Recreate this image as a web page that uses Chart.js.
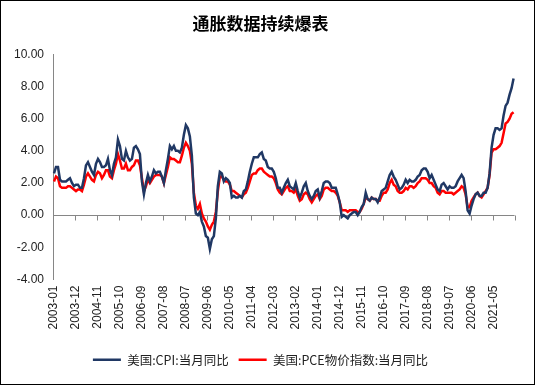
<!DOCTYPE html>
<html>
<head>
<meta charset="utf-8">
<script src="https://cdn.jsdelivr.net/npm/chart.js@4"></script>
<style>
  body { margin: 0; background: #fff; }
  #box { width: 535px; height: 385px; box-sizing: border-box; border: 1px solid #000; }
</style>
</head>
<body>
<div id="box"><canvas id="inflChart" width="533" height="383"></canvas></div>
<script>
// 月份: 2003-01 .. 2022-03
const startYear = 2003;
const monthCount = 231;
const labelEvery = 11;

// 美国:CPI:当月同比 (%)
const cpiValues = [
  2.6, 3.0, 3.0, 2.2, 2.1, 2.1, 2.1, 2.2, 2.3, 2.0, 1.8, 1.9,
  1.9, 1.7, 1.7, 2.3, 3.1, 3.3, 3.0, 2.7, 2.5, 3.2, 3.5, 3.3,
  3.0, 3.0, 3.1, 3.5, 2.8, 2.5, 3.2, 3.6, 4.7, 4.3, 3.5, 3.4,
  4.0, 3.6, 3.4, 3.5, 4.2, 4.3, 4.1, 3.8, 2.1, 1.3, 2.0, 2.5,
  2.1, 2.4, 2.8, 2.6, 2.7, 2.7, 2.4, 2.0, 2.8, 3.5, 4.3, 4.1,
  4.3, 4.0, 4.0, 3.9, 4.2, 5.0, 5.6, 5.4, 4.9, 3.7, 1.1, 0.1,
  0.0, 0.2, -0.4, -0.7, -1.3, -1.4, -2.1, -1.5, -1.3, -0.2, 1.8, 2.7,
  2.6, 2.1, 2.3, 2.2, 2.0, 1.1, 1.2, 1.1, 1.1, 1.2, 1.1, 1.5,
  1.6, 2.1, 2.7, 3.2, 3.6, 3.6, 3.6, 3.8, 3.9, 3.5, 3.4, 3.0,
  2.9, 2.9, 2.7, 2.3, 1.7, 1.7, 1.4, 1.7, 2.0, 2.2, 1.8, 1.7,
  1.6, 2.0, 1.5, 1.1, 1.4, 1.8, 2.0, 1.5, 1.2, 1.0, 1.2, 1.5,
  1.6, 1.1, 1.5, 2.0, 2.1, 2.1, 2.0, 1.7, 1.7, 1.7, 1.3, 0.8,
  -0.1, 0.0, -0.1, -0.2, 0.0, 0.1, 0.2, 0.2, 0.0, 0.2, 0.5, 0.7,
  1.4, 1.0, 0.9, 1.1, 1.0, 1.0, 0.8, 1.1, 1.5, 1.6, 1.7, 2.1,
  2.5, 2.7, 2.4, 2.2, 1.9, 1.6, 1.7, 1.9, 2.2, 2.0, 2.2, 2.1,
  2.1, 2.2, 2.4, 2.5, 2.8, 2.9, 2.9, 2.7, 2.3, 2.5, 2.2, 1.9,
  1.6, 1.5, 1.9, 2.0, 1.8, 1.6, 1.8, 1.7, 1.7, 1.8, 2.1, 2.3,
  2.5, 2.3, 1.5, 0.3, 0.1, 0.6, 1.0, 1.3, 1.4, 1.2, 1.2, 1.4,
  1.4, 1.7, 2.6, 4.2, 5.0, 5.4, 5.4, 5.3, 5.4, 6.2, 6.8, 7.0,
  7.5, 7.9, 8.5
];

// 美国:PCE物价指数:当月同比 (%)
const pceValues = [
  2.1, 2.4, 2.3, 1.8, 1.7, 1.7, 1.7, 1.8, 1.8, 1.7, 1.6, 1.5,
  1.6, 1.6, 1.5, 1.9, 2.4, 2.6, 2.4, 2.2, 2.1, 2.5, 2.7, 2.6,
  2.3, 2.5, 2.8, 2.8, 2.4, 2.3, 2.8, 3.2, 3.8, 3.4, 2.9, 2.9,
  3.2, 2.8, 2.8, 3.0, 3.1, 3.4, 3.4, 3.1, 2.3, 1.5, 1.8, 2.2,
  2.0, 2.2, 2.4, 2.5, 2.5, 2.5, 2.4, 2.0, 2.5, 3.0, 3.6, 3.5,
  3.5, 3.4, 3.3, 3.3, 3.7, 4.2, 4.5, 4.3, 4.0, 3.2, 1.4, 0.6,
  0.4, 0.7, 0.1, -0.2, -0.4, -0.7, -0.9, -0.6, -0.4, 0.2, 1.5, 2.4,
  2.4, 2.2, 2.1, 2.1, 1.9, 1.5, 1.5, 1.4, 1.3, 1.2, 1.1, 1.3,
  1.4, 1.7, 2.1, 2.5, 2.6, 2.6, 2.8, 2.9, 2.9, 2.7, 2.6, 2.5,
  2.4, 2.4, 2.3, 2.0, 1.6, 1.4, 1.3, 1.5, 1.7, 1.8, 1.5, 1.5,
  1.4, 1.6, 1.2, 0.9, 1.0, 1.3, 1.4, 1.3, 1.0, 0.8, 1.0, 1.2,
  1.3, 1.0, 1.2, 1.6, 1.7, 1.7, 1.6, 1.5, 1.5, 1.4, 1.2, 0.8,
  0.3, 0.3, 0.3, 0.2, 0.3, 0.3, 0.3, 0.3, 0.2, 0.2, 0.4, 0.7,
  1.1, 1.0, 0.9, 1.1, 1.0, 1.0, 0.9, 0.9, 1.2, 1.4, 1.4, 1.6,
  2.0, 2.2, 1.9, 1.8, 1.5, 1.4, 1.4, 1.5, 1.7, 1.6, 1.8, 1.8,
  1.7, 1.8, 2.0, 2.1, 2.3, 2.3, 2.3, 2.2, 2.0, 2.0, 1.8, 1.7,
  1.4, 1.3, 1.5, 1.5, 1.4, 1.4, 1.4, 1.4, 1.3, 1.4, 1.5, 1.6,
  1.8, 1.7, 1.3, 0.5, 0.5, 0.9, 1.1, 1.3, 1.4, 1.2, 1.1, 1.3,
  1.5, 1.7, 2.5, 3.9, 4.1, 4.1, 4.2, 4.3, 4.5, 5.1, 5.7, 5.8,
  6.0, 6.3, 6.4
];

const yTicks = [-4, -2, 0, 2, 4, 6, 8, 10];

const months = [];
for (let i = 0; i < monthCount; i++) {
  const y = startYear + Math.floor(i / 12);
  const m = (i % 12) + 1;
  months.push(y + '-' + (m < 10 ? '0' + m : m));
}

// 零轴 + 刻度线
const zeroAxis = {
  id: 'zeroAxis',
  beforeDatasetsDraw(chart) {
    const { ctx, chartArea, scales } = chart;
    const y0 = Math.round(scales.y.getPixelForValue(0)) + 0.5;
    const step = (chartArea.right - chartArea.left) / months.length;
    ctx.save();
    ctx.strokeStyle = '#868686';
    ctx.lineWidth = 1;
    ctx.beginPath();
    ctx.moveTo(chartArea.left, y0);
    ctx.lineTo(chartArea.right, y0);
    for (let k = 0; k * labelEvery <= months.length; k++) {
      const x = Math.round(chartArea.left + k * labelEvery * step) + 0.5;
      ctx.moveTo(x, y0);
      ctx.lineTo(x, y0 + 5);
    }
    ctx.stroke();
    ctx.restore();
  }
};

document.addEventListener('DOMContentLoaded', function () {
  Chart.defaults.font.family = "'Liberation Sans', 'Noto Sans CJK SC', sans-serif";
  Chart.defaults.color = '#222';

  const config = {
    type: 'line',
    data: {
      labels: months,
      datasets: [{
        label: '美国:CPI:当月同比',
        data: cpiValues,
        borderColor: '#203864',
        backgroundColor: '#203864',
        borderWidth: 2.5,
        pointRadius: 0,
        tension: 0
      }, {
        label: '美国:PCE物价指数:当月同比',
        data: pceValues,
        borderColor: '#ff0000',
        backgroundColor: '#ff0000',
        borderWidth: 2.5,
        pointRadius: 0,
        tension: 0
      }]
    },
    options: {
      responsive: false,
      animation: false,
      layout: { padding: { left: 0, right: 14, top: 0, bottom: 8 } },
      plugins: {
        title: {
          display: true,
          text: '通胀数据持续爆表',
          color: '#000',
          font: { family: "'Noto Sans CJK SC'", size: 17, weight: 'bold' },
          padding: { top: 12, bottom: 21 }
        },
        legend: {
          position: 'bottom',
          labels: {
            usePointStyle: true,
            pointStyle: 'line',
            pointStyleWidth: 28,
            padding: 10,
            color: '#222',
            font: { family: "'Noto Sans CJK SC'", size: 12.5 }
          }
        },
        tooltip: { enabled: false }
      },
      scales: {
        x: {
          offset: true,
          grid: { display: false, drawTicks: false },
          border: { display: false },
          ticks: {
            autoSkip: false,
            minRotation: 90,
            maxRotation: 90,
            padding: 6,
            font: { size: 12 },
            color: '#222',
            callback: function (v, i) { return i % labelEvery === 0 ? months[i] : ''; }
          },
          afterFit: function (s) { s.height = 64; }
        },
        y: {
          min: yTicks[0],
          max: yTicks[yTicks.length - 1],
          grid: { display: false, drawTicks: false },
          border: { display: true, color: '#868686', width: 1 },
          afterBuildTicks: function (s) { s.ticks = yTicks.map(v => ({ value: v })); },
          ticks: {
            padding: 9,
            font: { size: 12 },
            color: '#222',
            callback: function (v) { return v.toFixed(2); }
          },
          afterFit: function (s) { s.width = 52; }
        }
      }
    },
    plugins: [zeroAxis]
  };

  new Chart(document.getElementById('inflChart'), config);
});
</script>
</body>
</html>
